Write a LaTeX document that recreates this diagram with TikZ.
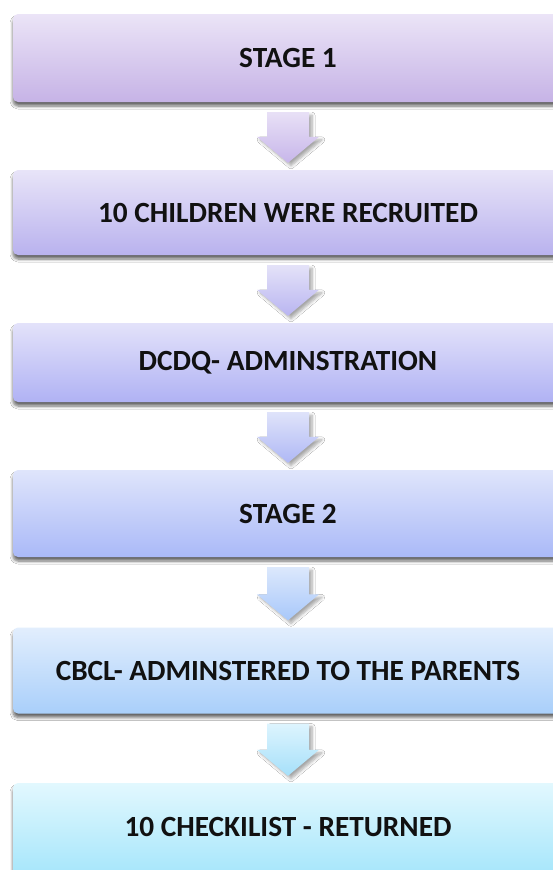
\documentclass[tikz,border=0pt]{standalone}
\usepackage{fontspec}
\setmainfont{Carlito}
\usetikzlibrary{calc,shadows.blur}

% box colours (top / bottom of the vertical gradient)
\definecolor{boxAt}{HTML}{EBE4F7}\definecolor{boxAb}{HTML}{C6B3E6}
\definecolor{boxBt}{HTML}{E8E4F8}\definecolor{boxBb}{HTML}{B9B2EE}
\definecolor{boxCt}{HTML}{E3E2FA}\definecolor{boxCb}{HTML}{B0B2F4}
\definecolor{boxDt}{HTML}{DFE5FB}\definecolor{boxDb}{HTML}{AAB9F8}
\definecolor{boxEt}{HTML}{E2EEFD}\definecolor{boxEb}{HTML}{A9CFFA}
\definecolor{boxFt}{HTML}{E2F8FE}\definecolor{boxFb}{HTML}{A6E6FB}
% arrow colours
\definecolor{arrAt}{HTML}{E8E0F6}\definecolor{arrAb}{HTML}{C7B6EA}
\definecolor{arrBt}{HTML}{E4E2F8}\definecolor{arrBb}{HTML}{B9B5F1}
\definecolor{arrCt}{HTML}{DFE3FA}\definecolor{arrCb}{HTML}{AFB8F5}
\definecolor{arrDt}{HTML}{DCE8FC}\definecolor{arrDb}{HTML}{A8C8FA}
\definecolor{arrEt}{HTML}{DDF4FE}\definecolor{arrEb}{HTML}{A6E0FA}
\definecolor{labelink}{HTML}{111111}

\tikzset{
  labelfont/.style={font=\fontsize{29.3}{34}\selectfont\bfseries, text=labelink},
  stagebox/.style={rounded corners=5pt, minimum width=550pt, inner sep=0pt,
    labelfont,
    blur shadow={shadow xshift=0pt, shadow yshift=-4pt, shadow opacity=60,
      shadow blur radius=3pt, shadow blur steps=6}},
  flow/.style={blur shadow={shadow xshift=3pt, shadow yshift=-3pt,
      shadow opacity=35, shadow blur radius=3pt, shadow blur steps=6}}
}

% block arrow from the bottom of one box to the top of the next
\newcommand\flowarrow[4]{%
  \path[flow, top color=#3, bottom color=#4]
    let \p1=($(#1.south)$), \p2=($(#2.north)$) in
    (\x1-21pt,\y1-10pt) -- (\x1+21pt,\y1-10pt) -- (\x1+21pt,\y2+33pt)
    -- (\x1+31pt,\y2+33pt) -- (\x1,\y2+7pt) -- (\x1-31pt,\y2+33pt)
    -- (\x1-21pt,\y2+33pt) -- cycle;}

\begin{document}
\begin{tikzpicture}[x=1pt,y=-1pt]
  \useasboundingbox (0,0) rectangle (553,870);
  \fill[white] (0,0) rectangle (553,870);

  \node[stagebox, minimum height=88pt, top color=boxAt, bottom color=boxAb]
    (b1) at (288,58) {STAGE 1};
  \node[stagebox, minimum height=85pt, top color=boxBt, bottom color=boxBb]
    (b2) at (288,212.5) {10 CHILDREN WERE RECRUITED};
  \node[stagebox, minimum height=79pt, top color=boxCt, bottom color=boxCb]
    (b3) at (288,362.5) {DCDQ- ADMINSTRATION};
  \node[stagebox, minimum height=87pt, top color=boxDt, bottom color=boxDb]
    (b4) at (288,513.5) {STAGE 2};
  \node[stagebox, minimum height=86pt, top color=boxEt, bottom color=boxEb]
    (b5) at (288,670.5) {CBCL- ADMINSTERED TO THE PARENTS};
  \node[stagebox, minimum height=92pt, top color=boxFt, bottom color=boxFb]
    (b6) at (288,829) {};
  \node[labelfont] (t6) at (288,827) {10 CHECKILIST - RETURNED};

  \flowarrow{b1}{b2}{arrAt}{arrAb}
  \flowarrow{b2}{b3}{arrBt}{arrBb}
  \flowarrow{b3}{b4}{arrCt}{arrCb}
  \flowarrow{b4}{b5}{arrDt}{arrDb}
  \flowarrow{b5}{b6}{arrEt}{arrEb}
\end{tikzpicture}
\end{document}
